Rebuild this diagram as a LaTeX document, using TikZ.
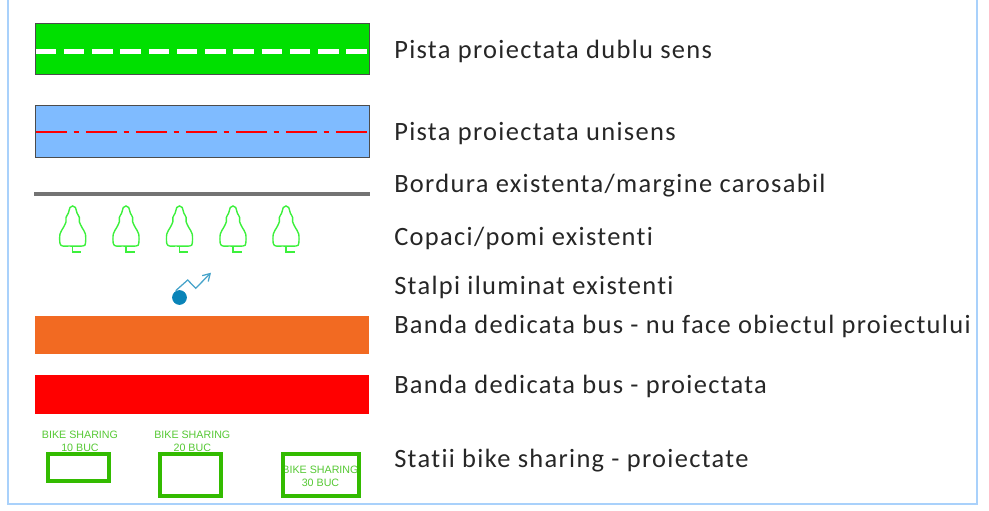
\documentclass[tikz,border=0pt]{standalone}
\usepackage{fontspec}
\setmainfont[LetterSpace=5,Ligatures=NoCommon]{Carlito}
\newfontfamily\bikefont{Liberation Sans}
\usepackage{tikz}
\usetikzlibrary{arrows.meta}
\definecolor{framecol}{HTML}{A9D1FB}
\definecolor{pistagreen}{HTML}{00E000}
\definecolor{pistablue}{HTML}{7FBBFF}
\definecolor{busorange}{HTML}{F26A22}
\definecolor{treegreen}{HTML}{3CF03C}
\definecolor{lampblue}{HTML}{0A84B8}
\definecolor{bikegreen}{HTML}{33BB00}
\definecolor{biketext}{HTML}{55C833}
\tikzset{
    legendtext/.style={anchor=west, inner sep=0pt, font=\fontsize{18.8}{22}\selectfont, text=black!85},
    bikelabel/.style={align=center, inner sep=0pt, text=biketext, font=\bikefont\fontsize{7.6}{9.4}\selectfont},
    bikebox/.style={draw=bikegreen, line width=2.8pt},
    tree/.pic={
        \draw[treegreen, line width=1pt] plot[smooth, tension=0.55] coordinates {
            (-4,40) (-10,40) (-12.7,37.5) (-12.7,28) (-9.3,21.5) (-6.7,16) (-6.7,11.5) (-4.3,7) (-2.7,1.5) (0,0)
            (2.7,1.5) (4.3,7) (6.7,11.5) (6.7,16) (9.3,21.5) (12.7,28) (12.7,37.5) (10,40) (-4,40)};
        \draw[treegreen, line width=1pt] (0,40) -- (0,46) -- (8.5,46);
    }
}

\begin{document}
\begin{tikzpicture}[x=0.025cm, y=-0.025cm]
    \useasboundingbox (0,0) rectangle (989,511);
    \draw[framecol, line width=1.3pt] (8,-5) -- (8,504) -- (977,504) -- (977,-5);

    \filldraw[draw=black!70, fill=pistagreen, line width=0.65pt] (35,23) rectangle (369,74);
    \draw[white, line width=2.9pt, dash pattern=on 14.6pt off 5.48pt] (35.7,51.5) -- (370,51.5);
    \filldraw[draw=black!70, fill=pistablue, line width=0.65pt] (35,105.5) rectangle (369,157);
    \draw[red, line width=1.2pt, dash pattern=on 22pt off 5pt on 3.5pt off 5.05pt] (35.7,132) -- (369,132);
    \draw[black!55, line width=2.6pt] (34,194) -- (370,194);

    \pic at (72.7,206) {tree};
    \pic at (126,206) {tree};
    \pic at (179.5,206) {tree};
    \pic at (233,206) {tree};
    \pic at (286,206) {tree};

    \filldraw[lampblue] (179.5,297.5) circle (5pt);
    \draw[lampblue!75, line width=0.9pt, -{Straight Barb[length=5pt, width=6pt]}] (175.7,290.7) -- (187.7,280) -- (195.7,288.3) -- (211,272.7);

    \fill[busorange] (35,316) rectangle (369,354);
    \fill[red] (35,375) rectangle (369,414);

    \node[bikelabel] (bike10) at (80,441) {BIKE SHARING\\10 BUC};
    \node[bikelabel] (bike20) at (192.3,441) {BIKE SHARING\\20 BUC};
    \node[bikelabel] (bike30) at (320.5,476) {BIKE SHARING\\30 BUC};
    \draw[bikebox] (48,454) rectangle (109,481);
    \draw[bikebox] (160,454) rectangle (221,496);
    \draw[bikebox] (283,454) rectangle (359,496);

    \node[legendtext] (dublu) at (394,51) {Pista proiectata dublu sens};
    \node[legendtext] (unisens) at (394,134) {Pista proiectata unisens};
    \node[legendtext] (bordura) at (394,186) {Bordura existenta/margine carosabil};
    \node[legendtext] (copaci) at (394,238) {Copaci/pomi existenti};
    \node[legendtext] (stalpi) at (394,287) {Stalpi iluminat existenti};
    \node[legendtext] (busvechi) at (394,326) {Banda dedicata bus - nu face obiectul proiectului};
    \node[legendtext] (busnou) at (394,386) {Banda dedicata bus - proiectata};
    \node[legendtext] (statii) at (394,461) {Statii bike sharing - proiectate};
\end{tikzpicture}
\end{document}
